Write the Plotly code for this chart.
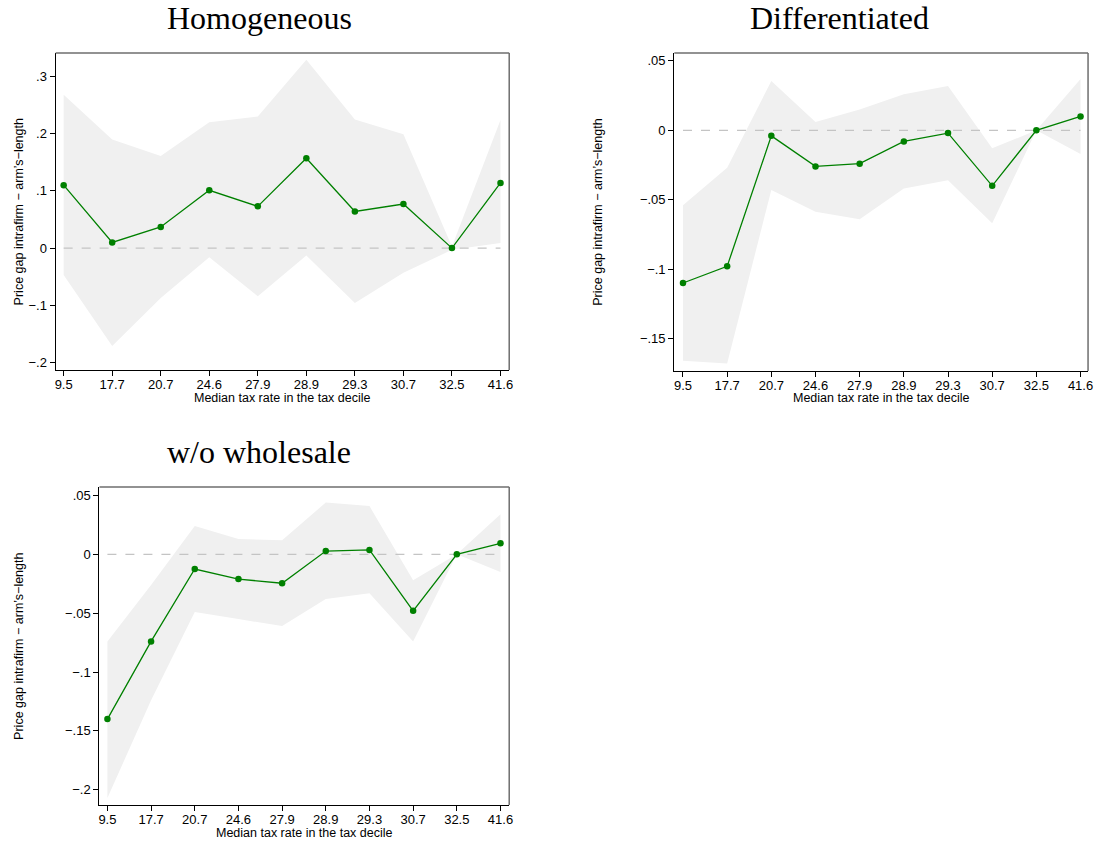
import plotly.graph_objects as go

categories = ["9.5", "17.7", "20.7", "24.6", "27.9", "28.9", "29.3", "30.7", "32.5", "41.6"]

homog_est = [0.110, 0.010, 0.037, 0.101, 0.073, 0.157, 0.064, 0.077, 0.000, 0.114]
homog_hi = [0.268, 0.190, 0.161, 0.220, 0.230, 0.329, 0.225, 0.199, 0.003, 0.224]
homog_lo = [-0.047, -0.171, -0.087, -0.016, -0.084, -0.013, -0.096, -0.043, -0.003, 0.009]

diff_est = [-0.110, -0.098, -0.004, -0.026, -0.024, -0.008, -0.002, -0.040, 0.000, 0.010]
diff_hi = [-0.054, -0.027, 0.0355, 0.006, 0.015, 0.026, 0.032, -0.013, 0.000, 0.037]
diff_lo = [-0.166, -0.168, -0.043, -0.0586, -0.064, -0.042, -0.036, -0.067, 0.000, -0.017]

wow_est = [-0.140, -0.074, -0.0125, -0.021, -0.0246, 0.0028, 0.0037, -0.048, 0.000, 0.0093]
wow_hi = [-0.074, -0.026, 0.024, 0.013, 0.012, 0.044, 0.041, -0.022, 0.000, 0.034]
wow_lo = [-0.207, -0.124, -0.049, -0.055, -0.061, -0.038, -0.033, -0.074, 0.000, -0.015]

titles = ["Homogeneous", "Differentiated", "w/o wholesale"]
x_title = "Median tax rate in the tax decile"
y_title = "Price gap intrafirm \u2212 arm\u2019s\u2212length"

ytick_vals = [
    [-0.2, -0.1, 0, 0.1, 0.2, 0.3],
    [-0.15, -0.1, -0.05, 0, 0.05],
    [-0.2, -0.15, -0.1, -0.05, 0, 0.05],
]
ytick_text = [
    ["\u2212.2", "\u2212.1", "0", ".1", ".2", ".3"],
    ["\u2212.15", "\u2212.1", "\u2212.05", "0", ".05"],
    ["\u2212.2", "\u2212.15", "\u2212.1", "\u2212.05", "0", ".05"],
]

W, H = 1102, 843


def px(x):
    return x / W


def py(y):
    return 1 - y / H


# panel frames in window pixels: (left, right, top, bottom)
frames = [(55, 511, 53, 370), (677, 1093, 53, 371), (99, 511, 487, 805)]
xranges = [[0.836, 10.18], [0.804, 10.17], [0.818, 10.20]]
yranges = [[-0.213, 0.341], [-0.1734, 0.0557], [-0.213, 0.0572]]
title_pos = [(260, 18), (843, 18), (259, 452)]
ytitle_x = [18, 600, 18]
xtitle_y = [398, 398, 833]

data = [(homog_est, homog_lo, homog_hi), (diff_est, diff_lo, diff_hi), (wow_est, wow_lo, wow_hi)]
xpos = list(range(1, len(categories) + 1))

fig = go.Figure()
sans = "Liberation Sans, Arial, sans-serif"
serif = "Liberation Serif, Times New Roman, serif"

for i, (est, lo, hi) in enumerate(data):
    n = "" if i == 0 else str(i + 1)
    xa, ya = "x" + n, "y" + n
    fig.add_trace(go.Scatter(x=xpos + xpos[::-1], y=hi + lo[::-1], fill="toself",
                             fillcolor="#f0f0f0", line=dict(width=0), mode="lines",
                             hoverinfo="skip", showlegend=False, xaxis=xa, yaxis=ya))
    fig.add_trace(go.Scatter(x=[xpos[0], xpos[-1]], y=[0, 0], mode="lines",
                             line=dict(color="#c4c4c4", width=1.2, dash="dash"),
                             hoverinfo="skip", showlegend=False, xaxis=xa, yaxis=ya))
    fig.add_trace(go.Scatter(x=xpos, y=est, mode="lines+markers",
                             line=dict(color="#008000", width=1.3),
                             marker=dict(color="#008000", size=6.5),
                             showlegend=False, xaxis=xa, yaxis=ya))

    l, r, t, b = frames[i]
    axis_common = dict(showgrid=False, zeroline=False, showline=True, linecolor="black",
                       linewidth=1.3, ticks="outside", ticklen=5, tickwidth=1.2,
                       tickcolor="black", tickfont=dict(family=sans, size=13, color="black"))
    fig.update_layout(**{
        "xaxis" + n: dict(domain=[px(l), px(r)], range=xranges[i], tickvals=xpos,
                          ticktext=categories, anchor=ya, ticklabelstandoff=-3,
                          **axis_common),
        "yaxis" + n: dict(domain=[py(b), py(t)], range=yranges[i], tickvals=ytick_vals[i],
                          ticktext=ytick_text[i], anchor=xa, **axis_common),
    })
    fig.add_shape(type="line", xref=xa + " domain", yref=ya + " domain",
                  x0=0, x1=1, y0=1, y1=1, line=dict(color="#6e6e6e", width=1.5))
    fig.add_shape(type="line", xref=xa + " domain", yref=ya + " domain",
                  x0=1, x1=1, y0=0, y1=1, line=dict(color="#6e6e6e", width=1.5))
    tx, ty = title_pos[i]
    fig.add_annotation(text=titles[i], xref="paper", yref="paper",
                       x=px(tx), y=py(ty), xanchor="center", yanchor="middle",
                       showarrow=False, font=dict(family=serif, size=32, color="black"))
    fig.add_annotation(text=x_title, xref="paper", yref="paper",
                       x=px((l + r) / 2), y=py(xtitle_y[i]), xanchor="center", yanchor="middle",
                       showarrow=False, font=dict(family=sans, size=12.5, color="black"))
    fig.add_annotation(text=y_title, xref="paper", yref="paper", textangle=-90,
                       x=px(ytitle_x[i]), y=py((t + b) / 2), xanchor="center", yanchor="middle",
                       showarrow=False, font=dict(family=sans, size=12.5, color="black"))

fig.update_layout(width=W, height=H, margin=dict(l=0, r=0, t=0, b=0),
                  paper_bgcolor="white", plot_bgcolor="white")

fig.write_html("out.html", config={"displayModeBar": False},
               post_script="document.body.style.margin='0';document.body.style.overflow='hidden';")
